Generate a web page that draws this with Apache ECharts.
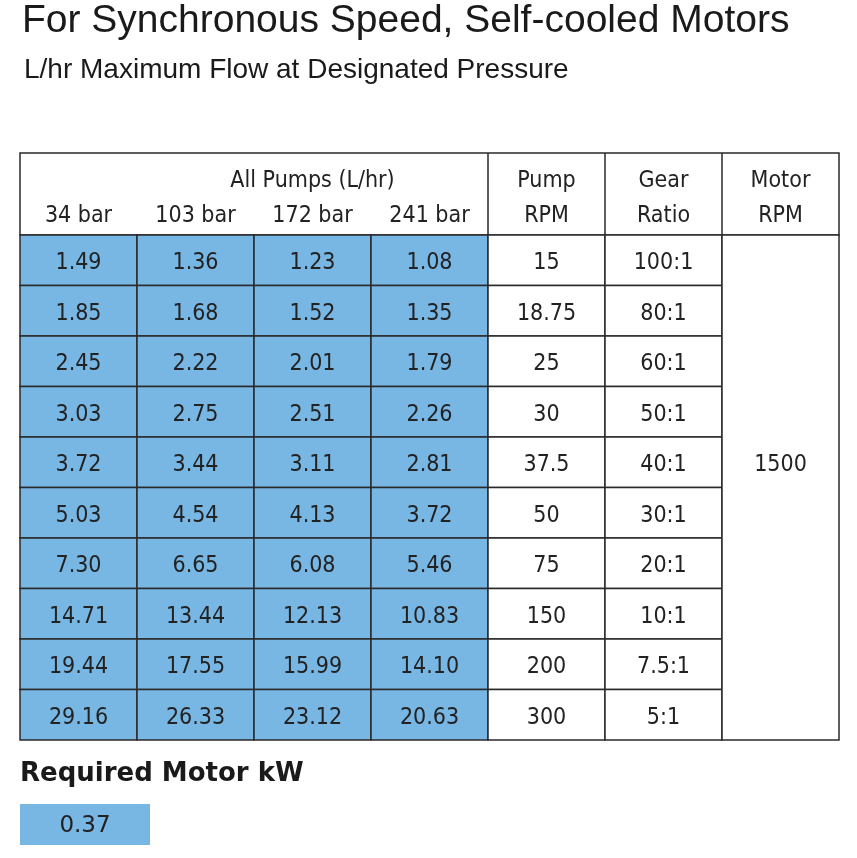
<!DOCTYPE html>
<html><head><meta charset="utf-8">
<script src="https://cdn.jsdelivr.net/npm/echarts@6/dist/echarts.min.js"></script>
<style>html,body{margin:0;background:#fff}#c{width:857px;height:858px}</style></head>
<body><div id="c"></div>
<script>
const title = 'For Synchronous Speed, Self-cooled Motors';
const subtitle = 'L/hr Maximum Flow at Designated Pressure';
const pressures = ['34 bar', '103 bar', '172 bar', '241 bar'];
const flow34 = ['1.49','1.85','2.45','3.03','3.72','5.03','7.30','14.71','19.44','29.16'];
const flow103 = ['1.36','1.68','2.22','2.75','3.44','4.54','6.65','13.44','17.55','26.33'];
const flow172 = ['1.23','1.52','2.01','2.51','3.11','4.13','6.08','12.13','15.99','23.12'];
const flow241 = ['1.08','1.35','1.79','2.26','2.81','3.72','5.46','10.83','14.10','20.63'];
const pumpRPM = ['15','18.75','25','30','37.5','50','75','150','200','300'];
const gearRatio = ['100:1','80:1','60:1','50:1','40:1','30:1','20:1','10:1','7.5:1','5:1'];
const motorRPM = '1500';
const motorKWLabel = 'Required Motor kW';
const motorKW = '0.37';

const BLUE = '#78b6e4', LINE = '#2a2a2a', FONT = '"DejaVu Sans Condensed","Liberation Sans Narrow","DejaVu Sans",sans-serif';
const cols = [flow34, flow103, flow172, flow241, pumpRPM, gearRatio];
const data = [];
cols.forEach((arr, c) => arr.forEach((v, r) => data.push([c, r, v, c < 4 ? 1 : 0])));
data.push([6, 0, motorRPM, 2]);

const chart = echarts.init(document.getElementById('c'));
chart.setOption({
  animation: false,
  grid: {left: 20, width: 819, top: 235, height: 505},
  xAxis: {type: 'category', data: [0,1,2,3,4,5,6], show: false},
  yAxis: {type: 'category', data: [0,1,2,3,4,5,6,7,8,9], inverse: true, show: false},
  series: [{
    type: 'custom', data: data,
    renderItem(params, api) {
      const c = api.value(0), r = api.value(1), kind = api.value(3);
      const s = api.size([1, 1]);
      const p = api.coord([c, r]);
      let x = p[0] - s[0]/2, y = p[1] - s[1]/2, w = s[0], h = s[1];
      let ty = y + h/2 + 3;
      if (kind === 2) { const q = api.coord([c, 9]); h = q[1] + s[1]/2 - y; ty = api.coord([c, 4])[1] + 3; }
      return {type: 'group', children: [
        {type: 'rect', shape: {x, y, width: w, height: h},
         style: {fill: kind === 1 ? BLUE : '#fff', stroke: LINE, lineWidth: 1.5}},
        {type: 'text', style: {x: x + w/2, y: ty, text: data[params.dataIndex][2],
         fill: '#222', font: '23px ' + FONT, align: 'center', verticalAlign: 'middle'}}
      ]};
    }
  }]
});

const px = i => chart.convertToPixel({xAxisIndex: 0}, i);
const colW = px(1) - px(0);
const L = 20, R = 839, HT = 153, HB = 235;
const g = [
  {type:'text', left: 22, top: 2, style:{text: title, font: '39px "Liberation Sans","DejaVu Sans",sans-serif', fill:'#1a1a1a'}},
  {type:'text', left: 24, top: 56, style:{text: subtitle, font: '28px "Liberation Sans","DejaVu Sans",sans-serif', fill:'#1a1a1a'}},
  {type:'rect', shape:{x:L, y:HT, width:R-L, height:HB-HT}, style:{fill:'none', stroke:LINE, lineWidth:1.5}},
  {type:'text', style:{x: px(1.5), y: 181, text:'All Pumps (L/hr)', font:'23px '+FONT, fill:'#222', align:'center', verticalAlign:'middle'}}
];
[4,5,6].forEach(i => { const x = px(i) - colW/2; g.push({type:'line', shape:{x1:x, y1:HT, x2:x, y2:HB}, style:{stroke:LINE, lineWidth:1.5}}); });
pressures.forEach((t, i) => g.push({type:'text', style:{x: px(i), y: 216, text:t, font:'23px '+FONT, fill:'#222', align:'center', verticalAlign:'middle'}}));
[['Pump','RPM'],['Gear','Ratio'],['Motor','RPM']].forEach((t, k) => {
  g.push({type:'text', style:{x: px(4+k), y: 181, text:t[0], font:'23px '+FONT, fill:'#222', align:'center', verticalAlign:'middle'}});
  g.push({type:'text', style:{x: px(4+k), y: 216, text:t[1], font:'23px '+FONT, fill:'#222', align:'center', verticalAlign:'middle'}});
});
g.push({type:'text', left: 20, top: 761, style:{text: motorKWLabel, font:'bold 26px "DejaVu Sans","Liberation Sans",sans-serif', fill:'#1a1a1a'}});
g.push({type:'rect', shape:{x:20, y:804, width:130, height:41}, style:{fill:BLUE}});
g.push({type:'text', style:{x: 85, y: 826, text: motorKW, font:'23px "DejaVu Sans",sans-serif', fill:'#222', align:'center', verticalAlign:'middle'}});
chart.setOption({graphic: g});
</script></body></html>
